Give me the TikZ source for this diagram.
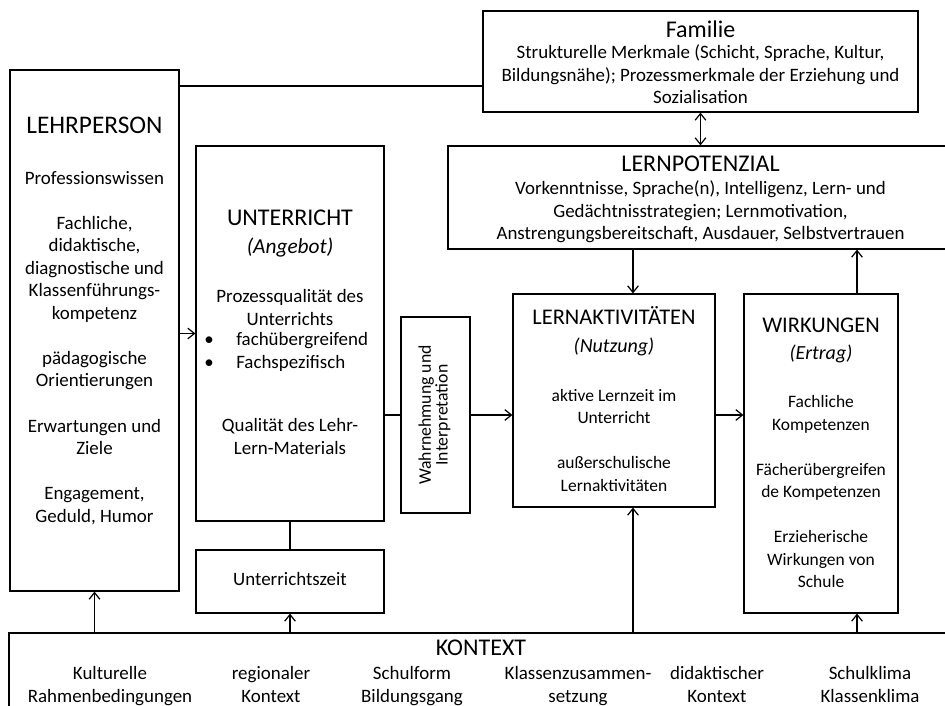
\documentclass[tikz,border=0pt]{standalone}
\usepackage{fontspec}
\setmainfont{Carlito}
\usetikzlibrary{arrows.meta}
\begin{document}
\begin{tikzpicture}[x=0.75pt,y=-0.75pt,
        box/.style={draw,line width=0.9pt,inner sep=0pt},
        txt/.style={align=center,text depth=3.5pt,font=\fontsize{14.2}{16.9}\selectfont},
        smalltxt/.style={txt,font=\fontsize{13.1}{16.9}\selectfont},
        ttl/.style={align=center,font=\fontsize{18}{21}\selectfont},
        line/.style={line width=0.9pt},
        arr/.style={line width=0.9pt,-{Straight Barb[length=5pt,width=8pt]}},
        dblarr/.style={line width=0.9pt,{Straight Barb[length=5pt,width=8pt]}-{Straight Barb[length=5pt,width=8pt]}}]
        \useasboundingbox (0,0) rectangle (945,706);
        \clip (0,0) rectangle (945,706);
        %% Boxes
        \node[box,minimum width=126.75pt,minimum height=390.75pt] (lehr) at (94.5,330.5) {};
        \node[box,minimum width=326.25pt,minimum height=75.75pt] (fam) at (700.5,61.5) {};
        \node[box,minimum width=384pt,minimum height=77.25pt] (pot) at (704,197.5) {};
        \node[box,minimum width=141pt,minimum height=281.25pt] (unt) at (290,333.5) {};
        \node[box,txt,minimum width=141pt,minimum height=47.25pt] (uzeit) at (290,581.5) {Unterrichtszeit};
        \node[box,minimum width=51.75pt,minimum height=147pt] (wahr) at (435.5,415) {};
        \node[box,minimum width=151.5pt,minimum height=159.75pt] (akt) at (614,400.5) {};
        \node[box,minimum width=115.5pt,minimum height=239.25pt] (wirk) at (821,453.5) {};
        \node[box,minimum width=713.25pt,minimum height=65.25pt] (kon) at (484.5,676.5) {};
        %% Lehrperson
        \node[ttl,font=\fontsize{19}{21}\selectfont] (lehrT) at (94.5,125) {LEHRPERSON};
        \node[txt] (lehrB) at (94.5,349) {Professionswissen\\[16.9pt]Fachliche,\\didaktische,\\diagnostische und\\Klassenführungs-\\kompetenz\\[16.9pt]pädagogische\\Orientierungen\\[16.9pt]Erwartungen und\\Ziele\\[16.9pt]Engagement,\\Geduld, Humor};
        %% Familie
        \node[ttl] (famT) at (700.5,29) {Familie};
        \node[txt] (famB) at (700.5,76.5) {Strukturelle Merkmale (Schicht, Sprache, Kultur,\\Bildungsnähe); Prozessmerkmale der Erziehung und\\Sozialisation};
        %% Lernpotenzial
        \node[ttl] (potT) at (700.5,164) {LERNPOTENZIAL};
        \node[txt] (potB) at (700.5,212.5) {Vorkenntnisse, Sprache(n), Intelligenz, Lern- und\\Gedächtnisstrategien; Lernmotivation,\\Anstrengungsbereitschaft, Ausdauer, Selbstvertrauen};
        %% Unterricht
        \node[ttl] (untT) at (290,234) {UNTERRICHT\\{\fontsize{16}{21}\selectfont\itshape (Angebot)}};
        \node[txt] (untB) at (290,310) {Prozessqualität des\\Unterrichts};
        \node[txt,align=left,anchor=west,inner sep=0pt] (untL) at (204,352.5) {\makebox[24pt][l]{\textbullet}fachübergreifend\\\makebox[24pt][l]{\textbullet}Fachspezifisch};
        \node[txt] (untM) at (290,439) {Qualität des Lehr-\\Lern-Materials};
        %% Wahrnehmung
        \node[txt,rotate=90,font=\fontsize{13.3}{12.5}\selectfont] (wahrT) at (435.5,415) {Wahrnehmung und\\Interpretation};
        %% Lernaktivitaeten
        \node[ttl,font=\fontsize{16.8}{21}\selectfont] (aktT) at (614,331) {LERNAKTIVITÄTEN\\{\fontsize{15}{21}\selectfont\itshape (Nutzung)}};
        \node[smalltxt] (aktB) at (614,442.5) {aktive Lernzeit im\\Unterricht\\[16.9pt]außerschulische\\Lernaktivitäten};
        %% Wirkungen
        \node[ttl,font=\fontsize{16.8}{20}\selectfont] (wirkT) at (821,340.5) {WIRKUNGEN\\{\fontsize{15}{20}\selectfont\itshape (Ertrag)}};
        \node[smalltxt] (wirkB) at (821,494) {Fachliche\\Kompetenzen\\[16.9pt]Fächerübergreifen\\de Kompetenzen\\[16.9pt]Erzieherische\\Wirkungen von\\Schule};
        %% Kontext
        \node[ttl] (konT) at (481,648) {KONTEXT};
        \node[txt] (kon1) at (110,687) {Kulturelle\\Rahmenbedingungen};
        \node[txt] (kon2) at (271,687) {regionaler\\Kontext};
        \node[txt] (kon3) at (412,687) {Schulform\\Bildungsgang};
        \node[txt] (kon4) at (578,687) {Klassenzusammen-\\setzung};
        \node[txt] (kon5) at (717,687) {didaktischer\\Kontext};
        \node[txt] (kon6) at (870,687) {Schulklima\\Klassenklima};
        %% Connectors
        \coordinate (famline) at (0,86);
        \coordinate (aktx) at (633,0);
        \coordinate (wirkx) at (857,0);
        \draw[line] (lehr.east |- famline) -- (fam.west |- famline);
        \draw[arr] (lehr.east |- unt.west) -- (unt.west);
        \draw[dblarr] (fam.south) -- (fam.south |- pot.north);
        \draw[arr] (pot.south -| aktx) -- (akt.north -| aktx);
        \draw[arr] (wirk.north -| wirkx) -- (pot.south -| wirkx);
        \draw[line] (unt.east |- wahr.west) -- (wahr.west);
        \draw[arr] (wahr.east) -- (wahr.east -| akt.west);
        \draw[arr] (akt.east |- wahr.east) -- (wirk.west |- wahr.east);
        \draw[line] (unt.south) -- (uzeit.north);
        %% from Kontext
        \draw[arr] (kon.north -| lehr.south) -- (lehr.south);
        \draw[arr] (kon.north -| uzeit.south) -- (uzeit.south);
        \draw[arr] (kon.north -| aktx) -- (akt.south -| aktx);
        \draw[arr] (kon.north -| wirkx) -- (wirk.south -| wirkx);
    \end{tikzpicture}
\end{document}
